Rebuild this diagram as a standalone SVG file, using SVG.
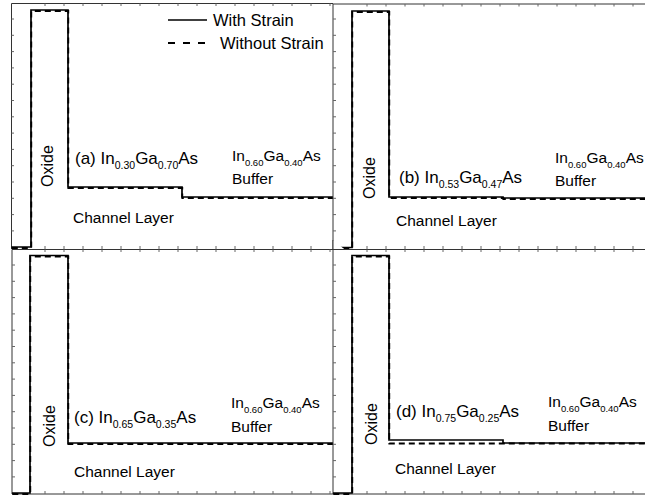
<svg xmlns="http://www.w3.org/2000/svg" width="645" height="495" viewBox="0 0 645 495">
<style>
text{font-family:"Liberation Sans",Arial,sans-serif;fill:#000}
.lbl{font-size:17px}
.sub{font-size:10.5px}
.buf{font-size:15.5px}
.sb{font-size:9.5px}
.ch{font-size:15.5px}
.ox{font-size:16px}
.leg{font-size:16.5px}
.frame{fill:#fff;stroke:#333;stroke-width:1}
.tick{fill:none;stroke:#666;stroke-width:1}
.solid{fill:none;stroke:#000;stroke-width:1.7;stroke-linejoin:miter}
.dash{fill:none;stroke:#000;stroke-width:1.8;stroke-dasharray:6 4}
</style>
<rect x="0" y="0" width="645" height="495" fill="#fff"/>

<g id="panel-a">
<path class="frame" d="M11.5,249 V3.5 H333"/>
<path class="tick" d="M11.5,19H14M11.5,35.3H14M11.5,51.6H14M11.5,67.9H14M11.5,84.2H14M11.5,100.5H14M11.5,116.8H14M11.5,133.1H14M11.5,149.4H14M11.5,165.7H14M11.5,182H14M11.5,198.3H14M11.5,214.6H14M11.5,230.9H14"/>
<path class="tick" d="M45,3.5V6M64,3.5V6M83,3.5V6M102,3.5V6M121,3.5V6M140,3.5V6M159,3.5V6M178,3.5V6M197,3.5V6M216,3.5V6M235,3.5V6M254,3.5V6M273,3.5V6M292,3.5V6M311,3.5V6M330,3.5V6"/>
<path class="tick" d="M45,249V246M64,249V246M83,249V246M102,249V246M121,249V246M140,249V246M159,249V246M178,249V246M197,249V246M216,249V246M235,249V246M254,249V246M273,249V246M292,249V246M311,249V246"/>
<path class="solid" d="M11.5,247 H31 V10 H68 V187 H182 V197 H333"/>
<path class="dash" transform="translate(0.3,1)" d="M11.5,247 H31 V10 H68 V187 H182 V197 H333"/>
<g id="legend">
<line x1="168" y1="20" x2="207" y2="20" stroke="#000" stroke-width="1.6"/>
<line x1="168" y1="43" x2="205" y2="43" stroke="#000" stroke-width="2" stroke-dasharray="7 8"/>
<text class="leg" x="213" y="26">With Strain</text>
<text class="leg" x="220" y="49">Without Strain</text>
</g>
<text class="ox" transform="translate(53,187) rotate(-90)">Oxide</text>
<text class="lbl" x="75" y="164">(a) In<tspan class="sub" dy="5">0.30</tspan><tspan dy="-5">Ga</tspan><tspan class="sub" dy="5">0.70</tspan><tspan dy="-5">As</tspan></text>
<text class="buf" x="232" y="161">In<tspan class="sb" dy="5">0.60</tspan><tspan dy="-5">Ga</tspan><tspan class="sb" dy="5">0.40</tspan><tspan dy="-5">As</tspan></text>
<text class="buf" x="232" y="184">Buffer</text>
<text class="ch" x="73" y="223">Channel Layer</text>
</g>

<g id="panel-b">
<path class="frame" d="M333,249 V4 H646"/>
<path class="tick" d="M333,19H336M333,35.3H336M333,51.6H336M333,67.9H336M333,84.2H336M333,100.5H336M333,116.8H336M333,133.1H336M333,149.4H336M333,165.7H336M333,182H336M333,198.3H336M333,214.6H336M333,230.9H336"/>
<path class="tick" d="M367,4V6.5M386,4V6.5M405,4V6.5M424,4V6.5M443,4V6.5M462,4V6.5M481,4V6.5M500,4V6.5M519,4V6.5M538,4V6.5M557,4V6.5M576,4V6.5M595,4V6.5M614,4V6.5M633,4V6.5"/>
<path class="tick" d="M367,249V246M386,249V246M405,249V246M424,249V246M443,249V246M462,249V246M481,249V246M500,249V246M519,249V246M538,249V246M557,249V246M576,249V246M595,249V246M614,249V246M633,249V246"/>
<path class="solid" d="M333,247.5 H352 V11 H389 V197 H503 V198 H646"/>
<path class="dash" transform="translate(0.3,1)" d="M333,247.5 H352 V11 H389 V197 H503 V198 H646"/>
<text class="ox" transform="translate(375,199) rotate(-90)">Oxide</text>
<text class="lbl" x="399" y="183">(b) In<tspan class="sub" dy="5">0.53</tspan><tspan dy="-5">Ga</tspan><tspan class="sub" dy="5">0.47</tspan><tspan dy="-5">As</tspan></text>
<text class="buf" x="555" y="163">In<tspan class="sb" dy="5">0.60</tspan><tspan dy="-5">Ga</tspan><tspan class="sb" dy="5">0.40</tspan><tspan dy="-5">As</tspan></text>
<text class="buf" x="555" y="186">Buffer</text>
<text class="ch" x="396" y="226">Channel Layer</text>
</g>

<g id="panel-c">
<path class="frame" d="M333,494 H12 V249.5 H333"/>
<path class="tick" d="M12,265H15M12,281.3H15M12,297.6H15M12,313.9H15M12,330.2H15M12,346.5H15M12,362.8H15M12,379.1H15M12,395.4H15M12,411.7H15M12,428H15M12,444.3H15M12,460.6H15M12,476.9H15"/>
<path class="tick" d="M45,249.5V252M64,249.5V252M83,249.5V252M102,249.5V252M121,249.5V252M140,249.5V252M159,249.5V252M178,249.5V252M197,249.5V252M216,249.5V252M235,249.5V252M254,249.5V252M273,249.5V252M292,249.5V252M311,249.5V252M330,249.5V252"/>
<path class="tick" d="M45,494V491M64,494V491M83,494V491M102,494V491M121,494V491M140,494V491M159,494V491M178,494V491M197,494V491M216,494V491M235,494V491M254,494V491M273,494V491M292,494V491M311,494V491M330,494V491"/>
<path class="solid" d="M12,493 H30 V255.5 H68 V443 H333"/>
<path class="dash" transform="translate(0.3,1)" d="M12,493 H30 V255.5 H68 V443 H333"/>
<text class="ox" transform="translate(55,447) rotate(-90)">Oxide</text>
<text class="lbl" x="74" y="423">(c) In<tspan class="sub" dy="5">0.65</tspan><tspan dy="-5">Ga</tspan><tspan class="sub" dy="5">0.35</tspan><tspan dy="-5">As</tspan></text>
<text class="buf" x="231" y="408">In<tspan class="sb" dy="5">0.60</tspan><tspan dy="-5">Ga</tspan><tspan class="sb" dy="5">0.40</tspan><tspan dy="-5">As</tspan></text>
<text class="buf" x="231" y="432">Buffer</text>
<text class="ch" x="74" y="477">Channel Layer</text>
</g>

<g id="panel-d">
<path class="frame" d="M646,494 H333 V240 M333,249.5 H646"/>
<path class="tick" d="M333,265H336M333,281.3H336M333,297.6H336M333,313.9H336M333,330.2H336M333,346.5H336M333,362.8H336M333,379.1H336M333,395.4H336M333,411.7H336M333,428H336M333,444.3H336M333,460.6H336M333,476.9H336"/>
<path class="tick" d="M367,249.5V252M386,249.5V252M405,249.5V252M424,249.5V252M443,249.5V252M462,249.5V252M481,249.5V252M500,249.5V252M519,249.5V252M538,249.5V252M557,249.5V252M576,249.5V252M595,249.5V252M614,249.5V252M633,249.5V252"/>
<path class="tick" d="M367,494V491M386,494V491M405,494V491M424,494V491M443,494V491M462,494V491M481,494V491M500,494V491M519,494V491M538,494V491M557,494V491M576,494V491M595,494V491M614,494V491M633,494V491"/>
<path class="solid" d="M333,493 H352 V255.5 H389 V440 H503 V443 H646"/>
<path class="dash" transform="translate(0.3,1)" d="M333,493 H352 V255.5 H389 V442.5 H646"/>
<text class="ox" transform="translate(377,445) rotate(-90)">Oxide</text>
<text class="lbl" x="396" y="417">(d) In<tspan class="sub" dy="5">0.75</tspan><tspan dy="-5">Ga</tspan><tspan class="sub" dy="5">0.25</tspan><tspan dy="-5">As</tspan></text>
<text class="buf" x="548" y="407">In<tspan class="sb" dy="5">0.60</tspan><tspan dy="-5">Ga</tspan><tspan class="sb" dy="5">0.40</tspan><tspan dy="-5">As</tspan></text>
<text class="buf" x="548" y="431">Buffer</text>
<text class="ch" x="395" y="474">Channel Layer</text>
</g>
</svg>
